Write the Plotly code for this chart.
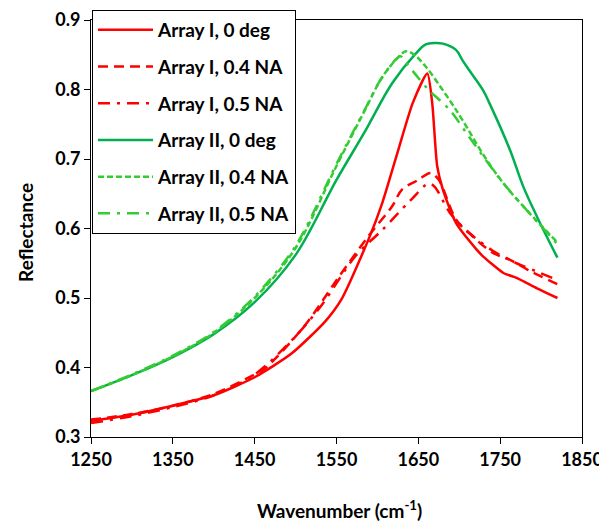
import plotly.graph_objects as go

# Array I, 0 deg
wn_a1_0 = [1250, 1300, 1350, 1400, 1450, 1495, 1536, 1556, 1589, 1606, 1626, 1643, 1661, 1667, 1673, 1680, 1696, 1721, 1729, 1754, 1770, 1795, 1820]
r_a1_0 = [0.323, 0.332, 0.345, 0.360, 0.386, 0.420, 0.466, 0.498, 0.584, 0.637, 0.715, 0.780, 0.823, 0.780, 0.690, 0.656, 0.608, 0.570, 0.560, 0.536, 0.529, 0.514, 0.500]

# Array I, 0.4 NA
wn_a1_04 = [1250, 1300, 1350, 1400, 1450, 1462, 1511, 1552, 1589, 1618, 1630, 1650, 1665, 1675, 1696, 1716, 1741, 1762, 1786, 1820]
r_a1_04 = [0.325, 0.333, 0.345, 0.362, 0.390, 0.398, 0.460, 0.529, 0.589, 0.632, 0.656, 0.670, 0.680, 0.670, 0.613, 0.589, 0.565, 0.555, 0.539, 0.520]

# Array I, 0.5 NA
wn_a1_05 = [1250, 1300, 1350, 1400, 1450, 1500, 1532, 1573, 1606, 1640, 1663, 1670, 1690, 1716, 1741, 1770, 1795, 1820]
r_a1_05 = [0.320, 0.330, 0.343, 0.360, 0.390, 0.445, 0.490, 0.560, 0.598, 0.640, 0.665, 0.660, 0.620, 0.590, 0.568, 0.550, 0.538, 0.526]

# Array II, 0 deg
wn_a2_0 = [1250, 1300, 1350, 1400, 1450, 1500, 1550, 1585, 1618, 1647, 1659, 1670, 1680, 1696, 1704, 1712, 1729, 1737, 1762, 1778, 1795, 1820]
r_a2_0 = [0.366, 0.389, 0.415, 0.448, 0.494, 0.562, 0.670, 0.740, 0.809, 0.852, 0.865, 0.867, 0.866, 0.857, 0.842, 0.828, 0.799, 0.780, 0.713, 0.661, 0.617, 0.558]

# Array II, 0.4 NA
wn_a2_04 = [1250, 1300, 1350, 1400, 1450, 1500, 1550, 1585, 1606, 1626, 1635, 1645, 1659, 1688, 1704, 1730, 1754, 1782, 1820]
r_a2_04 = [0.366, 0.389, 0.416, 0.450, 0.500, 0.572, 0.690, 0.771, 0.818, 0.847, 0.855, 0.850, 0.833, 0.785, 0.756, 0.705, 0.665, 0.627, 0.580]

# Array II, 0.5 NA
wn_a2_05 = [1250, 1300, 1350, 1400, 1450, 1500, 1550, 1585, 1606, 1628, 1634, 1647, 1663, 1688, 1712, 1729, 1754, 1782, 1815, 1820]
r_a2_05 = [0.366, 0.390, 0.417, 0.451, 0.502, 0.575, 0.693, 0.772, 0.818, 0.848, 0.840, 0.821, 0.799, 0.771, 0.732, 0.704, 0.665, 0.627, 0.584, 0.577]

x_ticks = [1250, 1350, 1450, 1550, 1650, 1750, 1850]
y_ticks = [0.3, 0.4, 0.5, 0.6, 0.7, 0.8, 0.9]

RED = "#FF0000"
DKGREEN = "#00B050"
LTGREEN = "#33CC33"
FONT = "Lato, Carlito, Calibri, sans-serif"

series = [
    ("Array I, 0 deg", wn_a1_0, r_a1_0, RED, "solid", 0.6),
    ("Array I, 0.4 NA", wn_a1_04, r_a1_04, RED, "10px,6px", 0.9),
    ("Array I, 0.5 NA", wn_a1_05, r_a1_05, RED, "12px,7px,3px,7px", 0.9),
    ("Array II, 0 deg", wn_a2_0, r_a2_0, DKGREEN, "solid", 1.0),
    ("Array II, 0.4 NA", wn_a2_04, r_a2_04, LTGREEN, "6px,3px", 1.0),
    ("Array II, 0.5 NA", wn_a2_05, r_a2_05, LTGREEN, "12px,7px,3px,7px", 0.9),
]

fig = go.Figure()
for i, (name, xs, ys, col, dash, sm) in enumerate(series):
    fig.add_trace(go.Scatter(
        x=xs, y=ys, mode="lines", name=name, legendgroup=f"g{i}",
        line=dict(color=col, width=2.5, dash=dash, shape="spline", smoothing=sm),
    ))

W, H = 599, 515  # page body adds an 8px offset
fig.update_layout(
    width=W, height=H,
    margin=dict(l=83, r=25, t=12, b=86, autoexpand=False),
    paper_bgcolor="white", plot_bgcolor="white",
    font=dict(family=FONT, size=16, color="black"),
    showlegend=True,
    legend=dict(
        xref="container", yref="container",
        x=84 / W, y=1 - 2 / H, xanchor="left", yanchor="top",
        bgcolor="white", bordercolor="black", borderwidth=1,
        font=dict(family=FONT, size=19, color="black", weight="bold"),
        itemwidth=55, tracegroupgap=9, traceorder="grouped",
    ),
    xaxis=dict(
        range=[1250, 1850], tickvals=x_ticks, ticktext=[str(v) for v in x_ticks],
        showgrid=False, zeroline=False, showline=True, linecolor="black", linewidth=1,
        mirror=True, ticks="outside", ticklen=6, tickcolor="black", automargin=False,
        tickfont=dict(family=FONT, size=18, weight="bold"),
    ),
    yaxis=dict(
        range=[0.3, 0.9], tickvals=y_ticks, ticktext=[f"{v:.1f}" for v in y_ticks],
        showgrid=False, zeroline=False, showline=True, linecolor="black", linewidth=1,
        mirror=True, ticks="outside", ticklen=6, tickcolor="black", automargin=False,
        tickfont=dict(family=FONT, size=18, weight="bold"),
    ),
    annotations=[
        dict(text="Wavenumber (cm<sup>-1</sup>)", xref="paper", yref="paper",
             x=0.507, y=-0.175, xanchor="center", yanchor="middle", showarrow=False,
             font=dict(family=FONT, size=19, weight="bold", color="black")),
        dict(text="Reflectance", xref="paper", yref="paper", textangle=-90,
             x=-0.134, y=0.49, xanchor="center", yanchor="middle", showarrow=False,
             font=dict(family=FONT, size=19, weight="bold", color="black")),
    ],
)

fig.write_html("out.html")
